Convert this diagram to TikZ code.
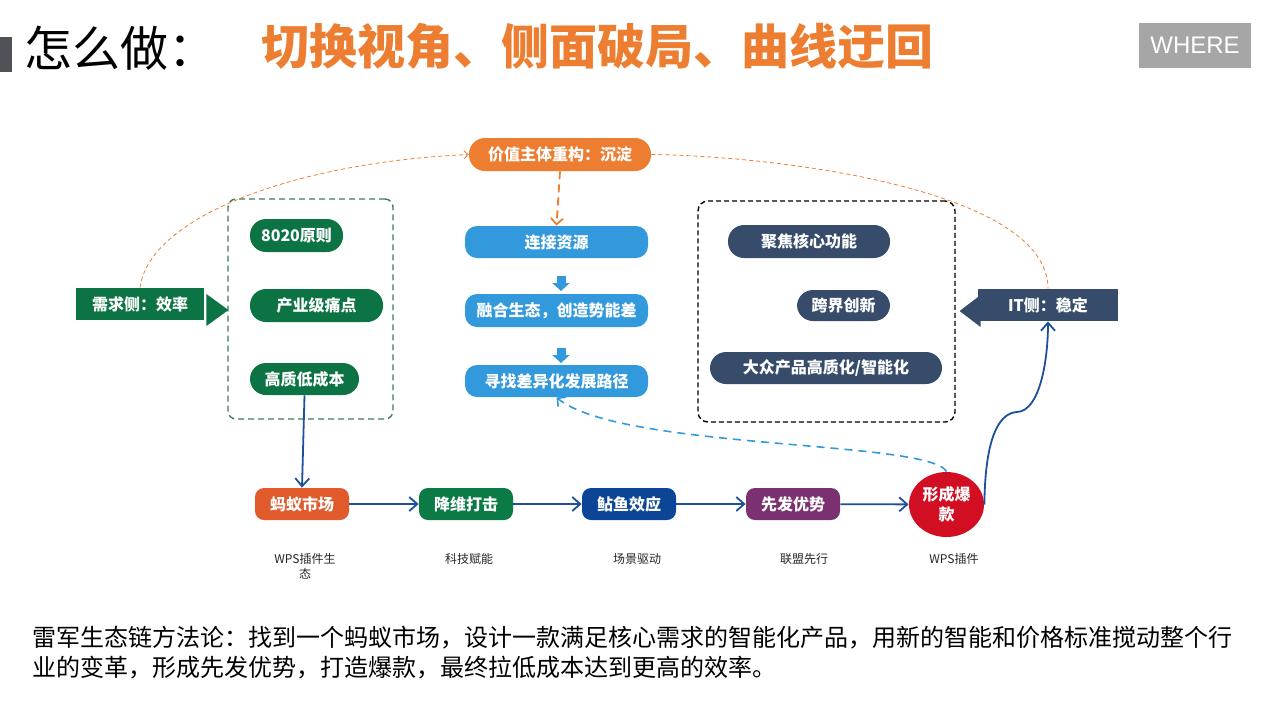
\documentclass[tikz,border=0pt]{standalone}
\usepackage{fontspec}
\setmainfont{Noto Sans CJK SC}
\newfontfamily\latinsans{Liberation Sans}
\usepackage{xcolor}
\usetikzlibrary{arrows.meta,positioning,shapes.geometric,calc}

\definecolor{ppOrange}{HTML}{ED7D31}
\definecolor{ecoGreen}{HTML}{0B7344}
\definecolor{frameGreen}{HTML}{3A7D5C}
\definecolor{stepBlue}{HTML}{3399DD}
\definecolor{itSlate}{HTML}{374C6B}
\definecolor{antRed}{HTML}{E05A2B}
\definecolor{dimGreen}{HTML}{0B7A45}
\definecolor{catfishBlue}{HTML}{0D4596}
\definecolor{firstPurple}{HTML}{7B3171}
\definecolor{hitRed}{HTML}{D20F22}
\definecolor{flowBlue}{HTML}{1E4F9C}
\definecolor{barGrey}{HTML}{4F5257}
\definecolor{whereGrey}{HTML}{A6A6A6}

\newcommand{\nodefont}{\bfseries\fontsize{8}{10}\selectfont}
\newcommand{\capfont}{\fontsize{6}{7.5}\selectfont}

\begin{document}
\begin{tikzpicture}[
    x=0.5pt, y=-0.5pt,
    tagbox/.style={rectangle, inner sep=0pt, text=white, font=\nodefont, align=center},
    pillbox/.style={tagbox, rounded corners=8pt, minimum height=16.5pt},
    gpill/.style={pillbox, fill=ecoGreen},
    spill/.style={pillbox, fill=itSlate},
    stepbox/.style={tagbox, rounded corners=6pt, fill=stepBlue, minimum width=91.5pt, minimum height=16pt},
    chainbox/.style={tagbox, rounded corners=4.5pt, minimum width=47pt, minimum height=16pt},
    sidebox/.style={tagbox, minimum height=16pt},
    dashframe/.style={rectangle, inner sep=0pt, fill=none},
    captext/.style={font=\capfont, align=center, text=black!85},
    flowarrow/.style={-{Straight Barb[length=4pt,width=7pt]}, draw=flowBlue, line width=0.9pt},
    hintline/.style={draw=ppOrange, line width=0.4pt, dash pattern=on 2pt off 1.5pt},
    droparrow/.style={-{Straight Barb[length=3pt,width=6pt]}, draw=ppOrange, line width=0.9pt, dash pattern=on 4pt off 2.5pt},
    backarrow/.style={-{Straight Barb[length=3pt,width=6pt]}, draw=stepBlue, line width=0.8pt, dash pattern=on 4pt off 3pt},
    stepdown/.style={-{Triangle[width=8.5pt,length=4pt]}, draw=stepBlue, line width=4.5pt}
]
\useasboundingbox (0,0) rectangle (1280,720);

% Header
\fill[barGrey] (0,37) rectangle (12,72);
\node[anchor=west, inner sep=0pt, font=\fontsize{24}{28}\selectfont] (howto) at (24,48) {怎么做：};
\node[anchor=west, inner sep=0pt, text=ppOrange, font=\bfseries\fontsize{24}{28}\selectfont] (motto) at (261,46) {切换视角、侧面破局、曲线迂回};
\node[rectangle, fill=whereGrey, text=white, minimum width=56pt, minimum height=22.5pt, inner sep=0pt, font=\latinsans\fontsize{12}{14}\selectfont] (where) at (1195,45.5) {WHERE};

% Value node
\node[pillbox, fill=ppOrange, minimum width=91pt] (value) at (560,154.5) {价值主体重构：沉淀};

% Demand side
\node[dashframe, draw=frameGreen, line width=0.7pt, dash pattern=on 3pt off 2pt, rounded corners=4pt, minimum width=82.5pt, minimum height=110pt] (gframe) at (310.5,309) {};
\node[gpill, minimum width=46.5pt] (rule) at (296.5,235.5) {8020原则};
\node[gpill, minimum width=66.5pt] (pain) at (316.5,305.5) {产业级痛点};
\node[gpill, minimum width=54.5pt, minimum height=16pt] (lowcost) at (304.5,379) {高质低成本};
\node[sidebox, fill=ecoGreen, minimum width=64pt] (demand) at (140,304) {需求侧：效率};
\fill[ecoGreen] ($(demand.east)+(2,-10)$) -- ($(demand.east)+(24,6)$) -- ($(demand.east)+(2,22)$) -- cycle;

% Middle steps
\node[stepbox] (link) at (556.5,242) {连接资源};
\node[stepbox, minimum height=16.5pt] (merge) at (556.5,310.5) {融合生态，创造势能差};
\node[stepbox] (findpath) at (556.5,381) {寻找差异化发展路径};
\coordinate (s1) at (561,276);
\coordinate (e1) at (561,291);
\coordinate (s2) at (561,348);
\coordinate (e2) at (561,363);
\draw[stepdown] (s1) -- (e1);
\draw[stepdown] (s2) -- (e2);

% IT side
\node[dashframe, draw=black, line width=0.7pt, dash pattern=on 2.5pt off 1.5pt, rounded corners=5pt, minimum width=128.5pt, minimum height=110.5pt] (kframe) at (826.5,311.5) {};
\node[spill, minimum width=81pt] (core) at (809,241.5) {聚焦核心功能};
\node[spill, minimum width=46.5pt, minimum height=15.5pt] (cross) at (843.5,305.5) {跨界创新};
\node[spill, minimum width=116pt, minimum height=16pt] (mass) at (826,368) {大众产品高质化/智能化};
\node[sidebox, fill=itSlate, minimum width=70pt] (itside) at (1048,305) {IT侧：稳定};
\fill[itSlate] ($(itside.west)+(-18,6)$) -- ($(itside.west)+(3,-10)$) -- ($(itside.west)+(3,22)$) -- cycle;

% Chain
\node[chainbox, fill=antRed] (ant) at (302,504) {蚂蚁市场};
\node[chainbox, fill=dimGreen] (dimred) at (466,504) {降维打击};
\node[chainbox, fill=catfishBlue] (catfish) at (629,504) {鲇鱼效应};
\node[chainbox, fill=firstPurple] (first) at (793,504) {先发优势};
\node[ellipse, fill=hitRed, text=white, font=\nodefont, align=center, inner sep=0pt, minimum width=37.5pt, minimum height=32.5pt] (burst) at (946.5,504.5) {形成爆\\款};

\node[captext] (cap1) at (305,566) {WPS插件生\\态};
\node[captext] (cap2) at (469,559) {科技赋能};
\node[captext] (cap3) at (637,559) {场景驱动};
\node[captext] (cap4) at (804,559) {联盟先行};
\node[captext] (cap5) at (954,559) {WPS插件};

% Connectors
\draw[hintline, -{Straight Barb[length=2pt,width=4pt]}] (demand.north) .. controls (150,215) and (300,162) .. (value.west);
\draw[hintline] (value.east) .. controls (780,156) and (1048,190) .. (itside.north);
\draw[droparrow] (value.south) -- (link.north);
\draw[flowarrow] (lowcost.south) -- (ant.north);
\draw[flowarrow] (ant) -- (dimred);
\draw[flowarrow] (dimred) -- (catfish);
\draw[flowarrow] (catfish) -- (first);
\draw[flowarrow] (first) -- (burst);
\draw[flowarrow] (burst.east) .. controls (985,440) and (998,413) .. (1017,412) .. controls (1040,411) and (1048,360) .. (itside.south);
\draw[backarrow] (burst.north) .. controls (930,440) and (620,450) .. (findpath.south);

% Summary
\node[anchor=north west, inner sep=0pt, align=left, font=\fontsize{12}{15}\selectfont] (summary) at (32,626) {雷军生态链方法论：找到一个蚂蚁市场，设计一款满足核心需求的智能化产品，用新的智能和价格标准搅动整个行\\业的变革，形成先发优势，打造爆款，最终拉低成本达到更高的效率。};

\end{tikzpicture}
\end{document}
